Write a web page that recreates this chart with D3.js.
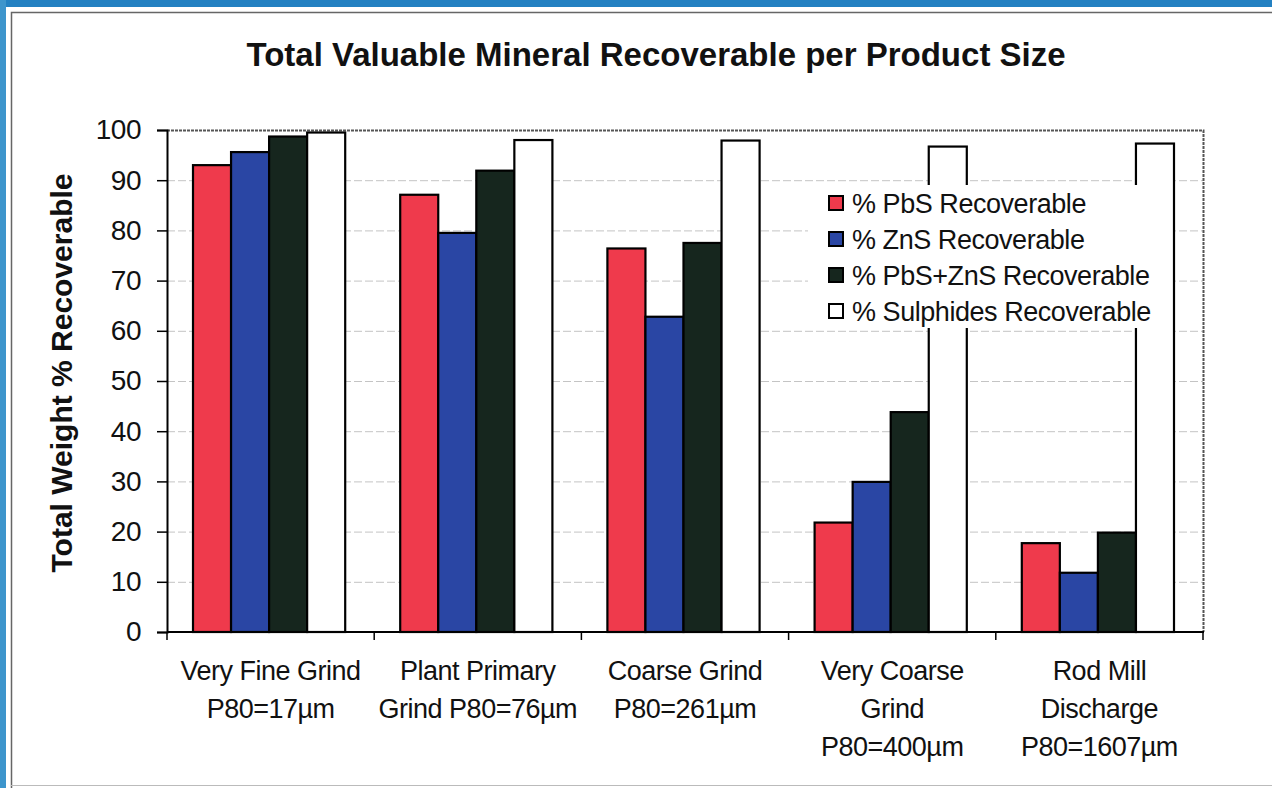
<!DOCTYPE html>
<html>
<head>
<meta charset="utf-8">
<script src="https://cdn.jsdelivr.net/npm/d3@7"></script>
<style>
  html, body { margin: 0; padding: 0; background: #fff; }
  svg { display: block; font-family: "Liberation Sans", Arial, sans-serif; }
</style>
</head>
<body>
<svg id="chart" width="1272" height="788"></svg>
<script>
// Product size categories (two- or three-line labels)
const categories = [
  ["Very Fine Grind", "P80=17\u00b5m"],
  ["Plant Primary", "Grind P80=76\u00b5m"],
  ["Coarse Grind", "P80=261\u00b5m"],
  ["Very Coarse", "Grind", "P80=400\u00b5m"],
  ["Rod Mill", "Discharge", "P80=1607\u00b5m"]
];
const seriesNames = [
  "% PbS Recoverable",
  "% ZnS Recoverable",
  "% PbS+ZnS Recoverable",
  "% Sulphides Recoverable"
];
const pbs       = [93.0, 87.1, 76.4, 21.8, 17.7];
const zns       = [95.6, 79.5, 62.8, 29.9, 11.8];
const pbsZns    = [98.7, 91.9, 77.5, 43.8, 19.8];
const sulphides = [99.5, 98.0, 97.9, 96.7, 97.3];
const yTicks = [0, 10, 20, 30, 40, 50, 60, 70, 80, 90, 100];

const seriesValues = [pbs, zns, pbsZns, sulphides];
const colors = ["#ef3a4c", "#2a46a4", "#16261e", "#ffffff"];

const svg = d3.select("#chart");
const W = 1272, H = 788;

// page border
svg.append("rect").attr("x", 0).attr("y", 0).attr("width", W).attr("height", 7).attr("fill", "#2381c2");
svg.append("rect").attr("x", 0).attr("y", 0).attr("width", 6).attr("height", H).attr("fill", "#3d95cc");
// chart frame
svg.append("path")
  .attr("d", `M11.5,${H} V12.5 H${W}`)
  .attr("fill", "none").attr("stroke", "#666").attr("stroke-width", 1.5);
svg.append("line").attr("x1", 11).attr("x2", W).attr("y1", 785.5).attr("y2", 785.5)
  .attr("stroke", "#bbb").attr("stroke-width", 1);

const plot = { left: 167, right: 1203, top: 130, bottom: 632 };

const x0 = d3.scaleBand().domain(d3.range(categories.length))
  .range([plot.left, plot.right]).paddingInner(0).paddingOuter(0);
const x1 = d3.scaleBand().domain(d3.range(seriesNames.length))
  .range([26, x0.bandwidth() - 29]).padding(0);
const y = d3.scaleLinear().domain([0, 100]).range([plot.bottom, plot.top]);

// gridlines
svg.append("g").selectAll("line").data(yTicks.filter(t => t > 0 && t < 100)).join("line")
  .attr("x1", plot.left).attr("x2", plot.right)
  .attr("y1", d => y(d) + 0.5).attr("y2", d => y(d) + 0.5)
  .attr("stroke", "#c4c4c4").attr("stroke-width", 1).attr("stroke-dasharray", "8,3");

// top and right frame of plot area
svg.append("path")
  .attr("d", `M${plot.left},${plot.top + 0.5} H${plot.right + 0.5} V${plot.bottom}`)
  .attr("fill", "none").attr("stroke", "#555").attr("stroke-width", 2).attr("stroke-dasharray", "3,1");

// bars
const groups = svg.append("g").selectAll("g").data(categories).join("g")
  .attr("transform", (d, i) => `translate(${x0(i)},0)`);
groups.selectAll("rect").data((d, i) => seriesValues.map((s, k) => ({ k, v: s[i] }))).join("rect")
  .attr("x", d => x1(d.k))
  .attr("y", d => y(d.v))
  .attr("width", x1.bandwidth())
  .attr("height", d => y(0) - y(d.v))
  .attr("fill", d => colors[d.k])
  .attr("stroke", "#000").attr("stroke-width", 2.2);

// y axis
const yAxis = d3.axisLeft(y).tickValues(yTicks).tickSize(10).tickPadding(16);
const gy = svg.append("g").attr("transform", `translate(${plot.left},0)`).call(yAxis);
gy.select(".domain").attr("stroke", "#000").attr("stroke-width", 2);
gy.selectAll(".tick line").attr("stroke", "#000").attr("stroke-width", 1.5);
gy.selectAll(".tick text").attr("font-size", 28).attr("fill", "#111")
  .attr("font-family", "Liberation Sans, Arial, sans-serif").attr("letter-spacing", "-0.5");

// x axis with ticks at group boundaries
const boundaries = d3.range(categories.length + 1).map(i => plot.left + i * x0.bandwidth());
svg.append("line").attr("x1", plot.left).attr("x2", plot.right + 1)
  .attr("y1", plot.bottom).attr("y2", plot.bottom).attr("stroke", "#000").attr("stroke-width", 2);
svg.append("g").selectAll("line").data(boundaries).join("line")
  .attr("x1", d => d).attr("x2", d => d)
  .attr("y1", plot.bottom).attr("y2", plot.bottom + 8)
  .attr("stroke", "#000").attr("stroke-width", 1.5);

// category labels
const lab = svg.append("g").selectAll("text").data(categories).join("text")
  .attr("x", (d, i) => x0(i) + x0.bandwidth() / 2)
  .attr("y", 680)
  .attr("text-anchor", "middle").attr("font-size", 27).attr("fill", "#111")
  .attr("letter-spacing", "-0.5");
lab.selectAll("tspan").data(d => d).join("tspan")
  .attr("x", function () { return d3.select(this.parentNode).attr("x"); })
  .attr("dy", (d, i) => i === 0 ? 0 : 38)
  .text(d => d);

// title
svg.append("text").attr("x", 656).attr("y", 66).attr("text-anchor", "middle")
  .attr("font-size", 33).attr("font-weight", "bold").attr("fill", "#111")
  .text("Total Valuable Mineral Recoverable per Product Size");

// y axis title
svg.append("text").attr("transform", "translate(72,373) rotate(-90)")
  .attr("text-anchor", "middle").attr("font-size", 30).attr("font-weight", "bold").attr("fill", "#111")
  .text("Total Weight % Recoverable");

// legend with opaque white background
const legend = svg.append("g").attr("transform", "translate(828,192)");
legend.append("rect").attr("x", -20).attr("y", -7).attr("width", 354).attr("height", 143)
  .attr("fill", "#fff");
const li = legend.selectAll("g.item").data(seriesNames).join("g").attr("class", "item")
  .attr("transform", (d, i) => `translate(0,${i * 36})`);
li.append("rect").attr("x", 1).attr("y", 4).attr("width", 14).attr("height", 14)
  .attr("fill", (d, i) => colors[i]).attr("stroke", "#000").attr("stroke-width", 2);
li.append("text").attr("x", 24).attr("y", 21).attr("font-size", 27).attr("fill", "#111")
  .attr("letter-spacing", "-0.45")
  .text(d => d);
</script>
</body>
</html>
